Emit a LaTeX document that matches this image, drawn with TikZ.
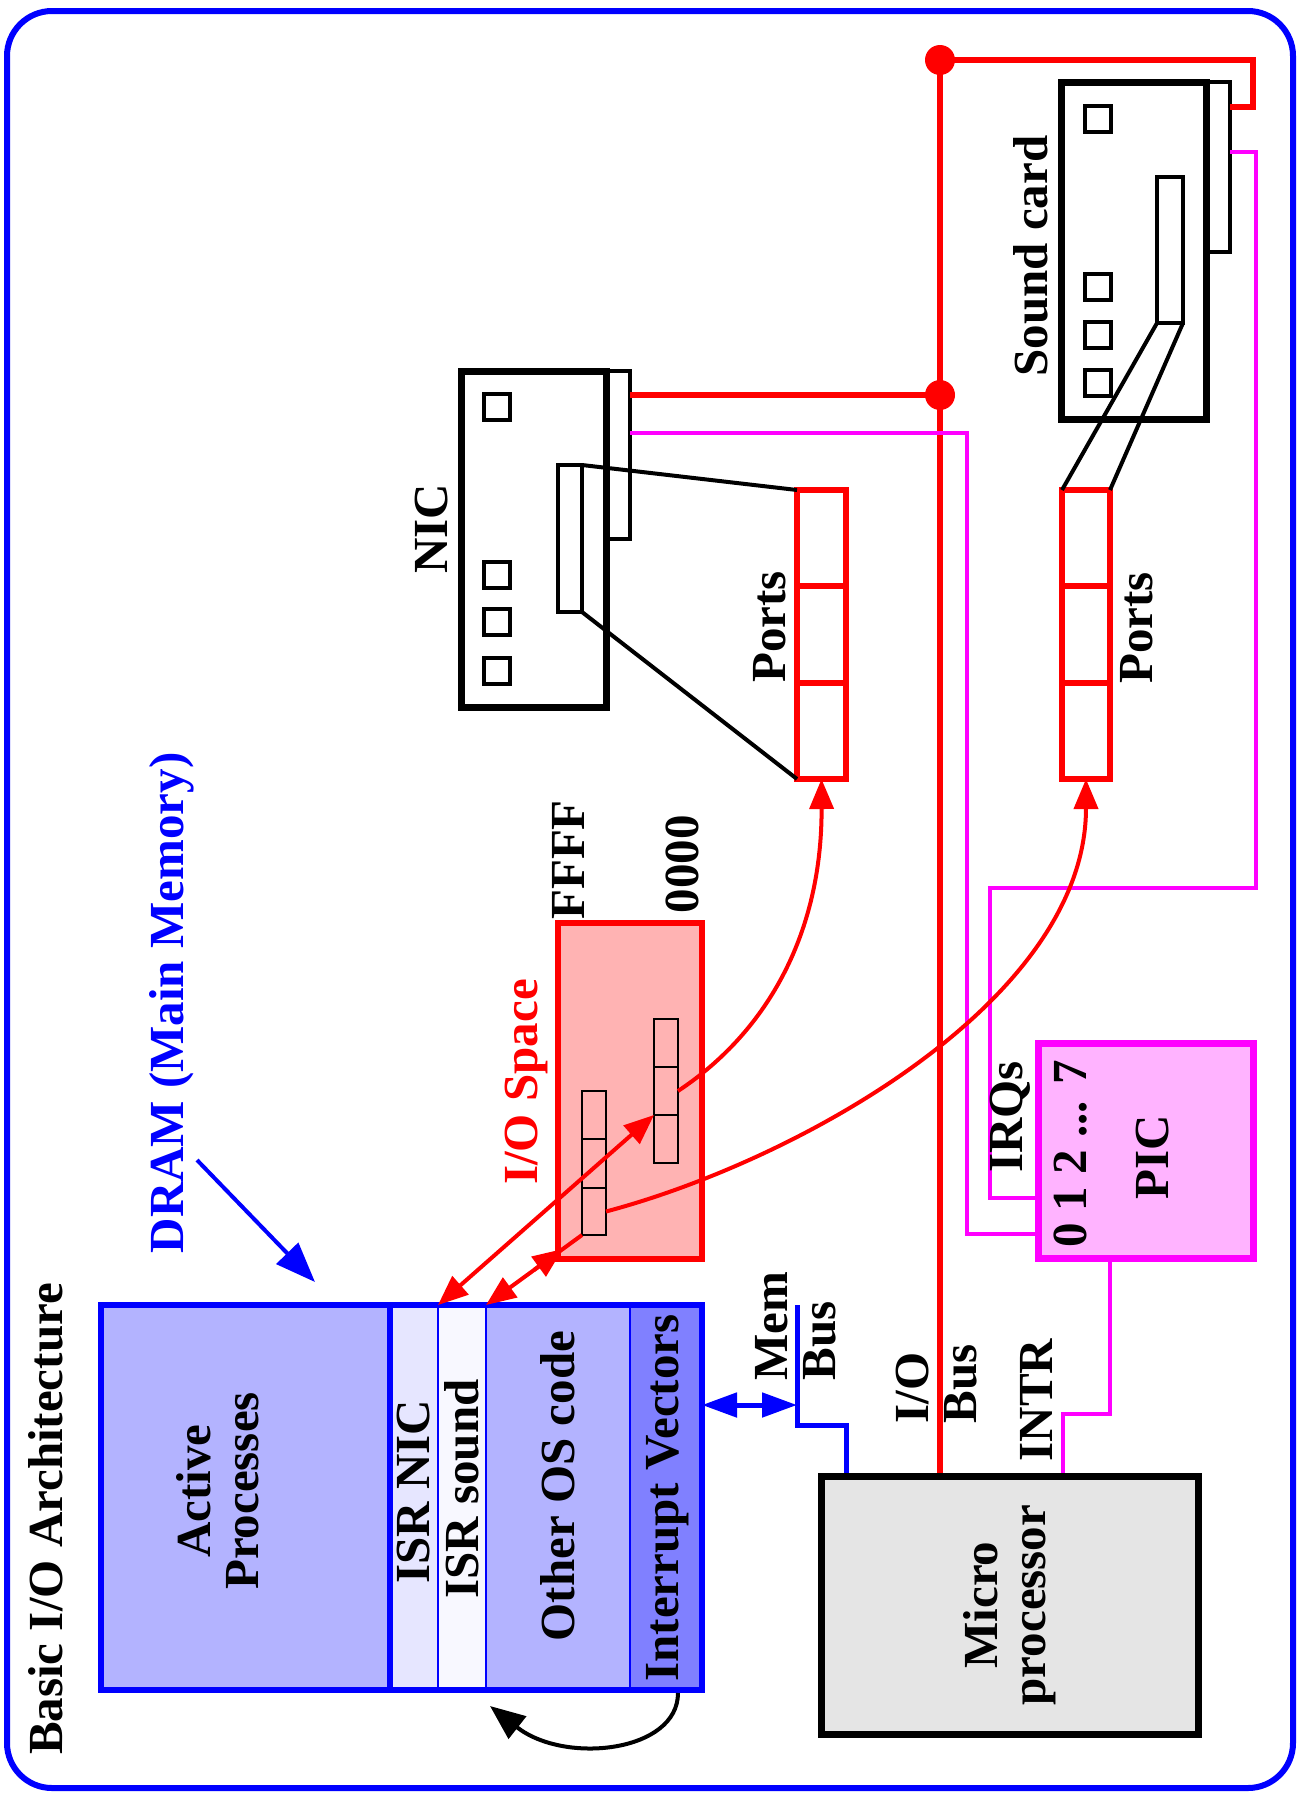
\documentclass[tikz,border=0pt]{standalone}
\usepackage{fontspec}
\setmainfont{Liberation Serif}
\usetikzlibrary{arrows.meta,calc}
\definecolor{dramfill}{RGB}{179,179,255}
\definecolor{isrnicfill}{RGB}{230,230,255}
\definecolor{isrsndfill}{RGB}{248,248,255}
\definecolor{ivfill}{RGB}{128,128,255}
\definecolor{iofill}{RGB}{255,179,179}
\definecolor{picfill}{RGB}{255,179,255}
\definecolor{cpufill}{RGB}{229,229,229}
\definecolor{magc}{RGB}{255,0,255}
\definecolor{redc}{RGB}{255,0,0}
\definecolor{bluec}{RGB}{0,0,255}
\newcommand\mkbox[6]{\node[boxshape,#2,minimum width={(#5-#3)*1pt},minimum height={(#6-#4)*1pt}] (#1) at ({(#3+#5)/2},{(#4+#6)/2}) {};}
\begin{document}
\begin{tikzpicture}[x=1pt,y=-1pt,
  boxshape/.style={rectangle,inner sep=0pt,outer sep=0pt},
  lbl/.style={rotate=90,font=\fontsize{49}{48}\selectfont\bfseries,inner sep=0pt,align=center},
  cell/.style={draw=black,line width=2.5},
  portcell/.style={draw=redc,line width=6},
  card/.style={draw=black,line width=7,fill=white},
  thinblk/.style={draw=black,line width=4},
  redbus/.style={draw=redc,line width=6},
  irqline/.style={draw=magc,line width=4},
  redarr/.style={redc,line width=4},
  rtip/.style={-{Triangle[length=30,width=24]}},
  dramcol/.style={draw=bluec,line width=2},
]
\useasboundingbox (0,0) rectangle (1299,1797);
% outer frame
\draw[bluec,line width=6,rounded corners=45] (7,11) rectangle (1293,1788);

% boxes needed for anchors
\mkbox{pic}{draw=magc,fill=picfill,line width=7}{1038}{1043}{1253}{1258}
\mkbox{cpu}{draw=black,fill=cpufill,line width=7}{821}{1476}{1198}{1734}

% DRAM
\mkbox{ap}{dramcol,fill=dramfill}{101}{1305}{390}{1690}
\mkbox{isrnic}{dramcol,fill=isrnicfill}{390}{1305}{438}{1690}
\mkbox{isrsnd}{dramcol,fill=isrsndfill}{438}{1305}{486}{1690}
\mkbox{oos}{dramcol,fill=dramfill}{486}{1305}{630}{1690}
\mkbox{iv}{dramcol,fill=ivfill}{630}{1305}{702}{1690}
\draw[bluec,line width=6] (ap.north west) rectangle (iv.south east);
\draw[bluec,line width=6] (ap.north east) -- (ap.south east);

% cards
\mkbox{nic}{card}{461}{371}{606}{707}
\mkbox{nictab}{thinblk}{606}{371}{630}{539}
\mkbox{nicslot}{thinblk}{558}{465}{582}{612}
\mkbox{nicsqa}{thinblk}{484}{394}{510}{420}
\mkbox{nicsqb}{thinblk}{484}{562}{510}{588}
\mkbox{nicsqc}{thinblk}{484}{609}{510}{635}
\mkbox{nicsqd}{thinblk}{484}{658}{510}{684}
\mkbox{np1}{portcell}{797}{490}{846}{586}
\mkbox{np2}{portcell}{797}{586}{846}{683}
\mkbox{np3}{portcell}{797}{683}{846}{779}

\mkbox{sc}{card}{1061}{82}{1206}{419}
\mkbox{sctab}{thinblk}{1206}{82}{1230}{252}
\mkbox{scslot}{thinblk}{1157}{177}{1183}{323}
\mkbox{scsqa}{thinblk}{1085}{106}{1111}{132}
\mkbox{scsqb}{thinblk}{1085}{274}{1111}{300}
\mkbox{scsqc}{thinblk}{1085}{322}{1111}{348}
\mkbox{scsqd}{thinblk}{1085}{370}{1111}{396}
\mkbox{sp1}{portcell}{1062}{490}{1110}{586}
\mkbox{sp2}{portcell}{1062}{586}{1110}{683}
\mkbox{sp3}{portcell}{1062}{683}{1110}{779}

\draw[thinblk] (nicslot.north east) -- (np1.north west);
\draw[thinblk] (nicslot.south east) -- (np3.south west);
\draw[thinblk] (scslot.south west) -- (sp1.north west);
\draw[thinblk] (scslot.south east) -- (sp1.north east);

% buses
\coordinate (ioTop) at (940,60);
\coordinate (nicJ) at (940,395);
\coordinate (sr1) at (1253,60);
\coordinate (sr2) at (1253,107);
\draw[redbus] (ioTop) -- (ioTop |- cpu.north);
\draw[redbus] (nicJ -| nictab.east) -- (nicJ);
\draw[redbus] (ioTop) -- (sr1) -- (sr2) -- (sr2 -| sctab.east);

\coordinate (nicM) at (967,433);
\coordinate (ma1) at (967,1234);
\draw[irqline] (nicM -| nictab.east) -- (nicM) -- (ma1) -- (ma1 -| pic.west);
\coordinate (mb1) at (1256,152);
\coordinate (mb2) at (1256,888);
\coordinate (mb3) at (990,888);
\coordinate (mb4) at (990,1198);
\draw[irqline] (mb1 -| sctab.east) -- (mb1) -- (mb2) -- (mb3) -- (mb4) -- (mb4 -| pic.west);
\coordinate (mc1) at (1110,1414);
\coordinate (mc2) at (1063,1414);
\draw[irqline] (mc1 |- pic.south) -- (mc1) -- (mc2) -- (mc2 |- cpu.north);

\coordinate (mem1) at (797,1425);
\coordinate (mem2) at (846,1425);
\draw[bluec,line width=5] (mem1 |- iv.north) -- (mem1) -- (mem2) -- (mem2 |- cpu.north);
\coordinate (memA) at (797,1405);
\draw[bluec,line width=5,{Triangle[length=35,width=24]}-{Triangle[length=35,width=24]}] (memA -| iv.east) -- (memA);

% redraw boxes on top of lines
\mkbox{pic}{draw=magc,fill=picfill,line width=7}{1038}{1043}{1253}{1258}
\mkbox{cpu}{draw=black,fill=cpufill,line width=7}{821}{1476}{1198}{1734}

% I/O space
\mkbox{io}{draw=redc,fill=iofill,line width=6}{558}{923}{702}{1259}
\mkbox{a1}{cell}{582}{1091}{606}{1139}
\mkbox{a2}{cell}{582}{1139}{606}{1188}
\mkbox{a3}{cell}{582}{1188}{606}{1235}
\mkbox{b1}{cell}{654}{1019}{678}{1067}
\mkbox{b2}{cell}{654}{1067}{678}{1115}
\mkbox{b3}{cell}{654}{1115}{678}{1163}

% arrows
\draw[redarr,{Triangle[length=30,width=24]}-{Triangle[length=30,width=24]}] (b3.north west) -- (isrnic.north east);
\draw[redarr,rtip] (a3.south west) -- (oos.north west);
\draw[redarr,rtip] ($(a3.south west)!0.5!(oos.north west)$) -- ($(a3.south west)!0.2!(oos.north west)$);
\draw[redarr,rtip] (b2.east) .. controls (770,1030) and (822,930) .. (np3.south);
\draw[redarr,rtip] (a3.east) .. controls (800,1160) and (1086,1000) .. (sp3.south);

\coordinate (cvS) at (678,1693);
\coordinate (cvE) at (490,1706);
\draw[black,line width=4,-{Triangle[length=35,width=28]}] (cvS) .. controls (678,1752) and (565,1765) .. (cvE);

\coordinate (dramA) at (197,1160);
\coordinate (dramB) at (315,1282);
\draw[bluec,line width=4,-{Triangle[length=40,width=30]}] (dramA) -- (dramB);

\fill[redc] (ioTop) circle (15pt);
\fill[redc] (nicJ) circle (15pt);

% labels
\node[lbl] (title) at (46,1519) {Basic I/O Architecture};
\node[lbl,text=bluec] (dramlbl) at (172,1003) {DRAM (Main Memory)};
\node[lbl,text=redc] (iolbl) at (526,1082) {I/O Space};
\node[lbl] (ffff) at (568,860) {FFFF};
\node[lbl] (zero) at (682,864) {0000};
\node[lbl] (niclbl) at (432,529) {NIC};
\node[lbl] (nplbl) at (770,627) {Ports};
\node[lbl] (splbl) at (1137,628) {Ports};
\node[lbl] (sclbl) at (1031,256) {Sound card};
\node[lbl] (irqlbl) at (1010,1117) {IRQs};
\node[lbl] (irqnum) at (1071,1154) {0 1 2 ... 7};
\node[lbl] (piclbl) at (1153,1157) {PIC};
\node[lbl,align=left] (memlbl) at (796,1326) {Mem\\Bus};
\node[lbl,align=left] (iolbl2) at (937,1384) {I/O\\Bus};
\node[lbl] (intrlbl) at (1036,1400) {INTR};
\node[lbl] (cpulbl) at (1010,1605) {Micro\\processor};
\node[lbl] (aplbl) at (218,1491) {Active\\Processes};
\node[lbl] (isrniclbl) at (414,1492) {ISR NIC};
\node[lbl] (isrsndlbl) at (462,1489) {ISR sound};
\node[lbl] (ooslbl) at (558,1486) {Other OS code};
\node[lbl] (ivlbl) at (668,1498) {Interrupt Vectors};
\end{tikzpicture}
\end{document}
